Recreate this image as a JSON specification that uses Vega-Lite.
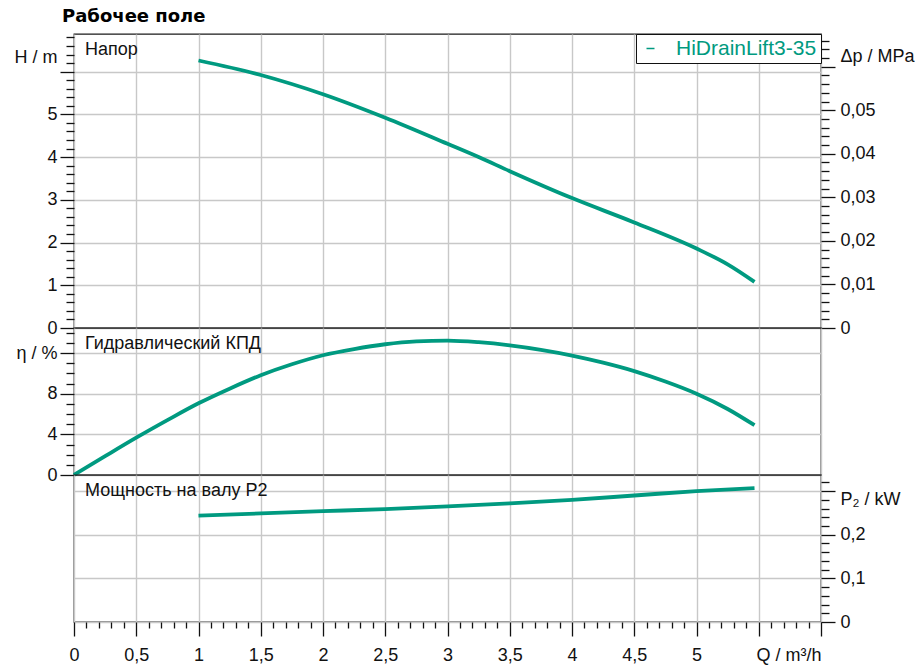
{
  "$schema": "https://vega.github.io/schema/vega-lite/v6.json",
  "padding": {"left": 13, "top": 7, "right": 0, "bottom": 0},
  "background": "white",
  "title": {"text": "Рабочее поле", "anchor": "start", "frame": "group", "font": "DejaVu Sans", "fontSize": 18, "fontWeight": "bold", "color": "#000000", "dx": -12, "offset": 2},
  "datasets": {
    "H": [
      {"Q": 1.0, "H": 6.26}, {"Q": 1.5, "H": 5.92}, {"Q": 2.0, "H": 5.47}, {"Q": 2.5, "H": 4.92},
      {"Q": 3.0, "H": 4.31}, {"Q": 3.25, "H": 4.0}, {"Q": 3.5, "H": 3.67}, {"Q": 4.0, "H": 3.04},
      {"Q": 4.5, "H": 2.47}, {"Q": 5.0, "H": 1.86}, {"Q": 5.25, "H": 1.49}, {"Q": 5.466, "H": 1.08}
    ],
    "eta": [
      {"Q": 0, "eta": 0}, {"Q": 0.25, "eta": 1.85}, {"Q": 0.5, "eta": 3.67}, {"Q": 0.75, "eta": 5.4},
      {"Q": 1.0, "eta": 7.06}, {"Q": 1.25, "eta": 8.5}, {"Q": 1.5, "eta": 9.82}, {"Q": 1.75, "eta": 10.9},
      {"Q": 2.0, "eta": 11.79}, {"Q": 2.25, "eta": 12.4}, {"Q": 2.5, "eta": 12.87}, {"Q": 2.75, "eta": 13.15},
      {"Q": 3.0, "eta": 13.23}, {"Q": 3.25, "eta": 13.07}, {"Q": 3.5, "eta": 12.76}, {"Q": 3.75, "eta": 12.32},
      {"Q": 4.0, "eta": 11.76}, {"Q": 4.25, "eta": 11.06}, {"Q": 4.5, "eta": 10.23}, {"Q": 4.75, "eta": 9.2},
      {"Q": 5.0, "eta": 8.0}, {"Q": 5.25, "eta": 6.5}, {"Q": 5.466, "eta": 4.9}
    ],
    "P2": [
      {"Q": 1.0, "P2": 0.244}, {"Q": 1.5, "P2": 0.249}, {"Q": 2.0, "P2": 0.254}, {"Q": 2.5, "P2": 0.259},
      {"Q": 3.0, "P2": 0.265}, {"Q": 3.5, "P2": 0.272}, {"Q": 4.0, "P2": 0.28}, {"Q": 4.5, "P2": 0.29},
      {"Q": 5.0, "P2": 0.3}, {"Q": 5.466, "P2": 0.307}
    ]
  },
  "spacing": 0,
  "bounds": "flush",
  "vconcat": [
    {
      "width": 747,
      "height": 294,
      "layer": [
        {
          "data": {"name": "H"},
          "mark": {"type": "line", "color": "#009a80", "strokeWidth": 3.8, "interpolate": "monotone"},
          "encoding": {
            "x": {"field": "Q", "type": "quantitative", "scale": {"domain": [0, 6], "nice": false, "zero": false},
              "axis": {"title": null, "labels": false, "ticks": false, "domain": false, "grid": true, "values": [0,0.5,1,1.5,2,2.5,3,3.5,4,4.5,5,5.5,6]}},
            "y": {"field": "H", "type": "quantitative", "scale": {"domain": [0, 6.88], "nice": false, "zero": false},
              "axis": {"orient": "left", "title": null, "grid": true,
                "values": [0,0.2,0.4,0.6,0.8,1,1.2,1.4,1.6,1.8,2,2.2,2.4,2.6,2.8,3,3.2,3.4,3.6,3.8,4,4.2,4.4,4.6,4.8,5,5.2,5.4,5.6,5.8,6,6.2,6.4,6.6,6.8,6.33],
                "tickSize": {"condition": {"test": "abs(datum.value - round(datum.value)) < 0.01 || abs(datum.value - 6.33) < 0.001", "value": 14}, "value": 8},
                "tickOpacity": {"condition": {"test": "abs(datum.value - 6.33) < 0.001", "value": 0}, "value": 1},
                "gridOpacity": {"condition": {"test": "abs(datum.value - round(datum.value)) < 0.01", "value": 1}, "value": 0},
                "labelExpr": "abs(datum.value - 6.33) < 0.001 ? 'H / m' : ((abs(datum.value - round(datum.value)) < 0.01 && datum.value < 5.5) ? format(datum.value, '~g') : '')"}},
            "color": {"datum": "HiDrainLift3-35", "scale": {"range": ["#009a80"]},
              "legend": {"title": null, "orient": "top-right", "offset": 0, "padding": 4, "strokeColor": "#111111", "fillColor": "white",
                "symbolType": "stroke", "symbolSize": 64, "symbolStrokeWidth": 1.5, "symbolStrokeColor": "#009a80",
                "labelColor": "#009a80", "labelFont": "Liberation Sans", "labelFontSize": 21, "labelOffset": 15, "labelLimit": 400}}
          }
        },
        {
          "data": {"values": [{"label": "Напор", "Q": 0}]},
          "mark": {"type": "text", "align": "left", "baseline": "alphabetic", "dx": 11, "dy": 21, "fontSize": 18, "font": "Liberation Sans", "color": "#111111"},
          "encoding": {
            "text": {"field": "label"},
            "x": {"field": "Q", "type": "quantitative", "scale": {"domain": [0, 6], "nice": false, "zero": false},
              "axis": {"title": null, "labels": false, "ticks": false, "domain": false, "grid": true, "values": [0,0.5,1,1.5,2,2.5,3,3.5,4,4.5,5,5.5,6]}},
            "y": {"datum": 0.0675, "type": "quantitative", "scale": {"domain": [0, 0.0675], "nice": false, "zero": false},
              "axis": {"orient": "right", "title": null, "grid": false, "labelPadding": 5,
                "values": [0,0.002,0.004,0.006,0.008,0.01,0.012,0.014,0.016,0.018,0.02,0.022,0.024,0.026,0.028,0.03,0.032,0.034,0.036,0.038,0.04,0.042,0.044,0.046,0.048,0.05,0.052,0.054,0.056,0.058,0.06,0.062,0.064,0.066,0.0623],
                "tickSize": {"condition": {"test": "abs(datum.value*100 - round(datum.value*100)) < 0.01 || abs(datum.value - 0.0623) < 0.00001", "value": 14}, "value": 8},
                "tickOpacity": {"condition": {"test": "abs(datum.value - 0.0623) < 0.00001", "value": 0}, "value": 1},
                "labelExpr": "abs(datum.value - 0.0623) < 0.00001 ? 'Δp / MPa' : ((abs(datum.value*100 - round(datum.value*100)) < 0.01 && datum.value < 0.055) ? replace(format(datum.value, '~g'), '.', ',') : '')"}}
          }
        }
      ],
      "resolve": {"scale": {"y": "independent"}}
    },
    {
      "width": 747,
      "height": 147,
      "layer": [
        {
          "data": {"name": "eta"},
          "mark": {"type": "line", "color": "#009a80", "strokeWidth": 3.8, "interpolate": "monotone"},
          "encoding": {
            "x": {"field": "Q", "type": "quantitative", "scale": {"domain": [0, 6], "nice": false, "zero": false},
              "axis": {"title": null, "labels": false, "ticks": false, "domain": false, "grid": true, "values": [0,0.5,1,1.5,2,2.5,3,3.5,4,4.5,5,5.5,6]}},
            "y": {"field": "eta", "type": "quantitative", "scale": {"domain": [0, 14.47], "nice": false, "zero": false},
              "axis": {"orient": "left", "title": null, "grid": true,
                "values": [0,1,2,3,4,5,6,7,8,9,10,11,12,13,14],
                "tickSize": {"condition": {"test": "datum.value % 4 == 0", "value": 14}, "value": 8},
                "gridOpacity": {"condition": {"test": "datum.value % 4 == 0", "value": 1}, "value": 0},
                "labelExpr": "datum.value == 12 ? 'η / %' : (datum.value % 4 == 0 ? format(datum.value, '~g') : '')"}}
          }
        },
        {
          "data": {"values": [{"label": "Гидравлический КПД", "Q": 0, "eta": 14.47}]},
          "mark": {"type": "text", "align": "left", "baseline": "alphabetic", "dx": 11, "dy": 21, "fontSize": 18, "font": "Liberation Sans", "color": "#111111"},
          "encoding": {
            "text": {"field": "label"},
            "x": {"field": "Q", "type": "quantitative", "scale": {"domain": [0, 6], "nice": false, "zero": false},
              "axis": {"title": null, "labels": false, "ticks": false, "domain": false, "grid": true, "values": [0,0.5,1,1.5,2,2.5,3,3.5,4,4.5,5,5.5,6]}},
            "y": {"field": "eta", "type": "quantitative", "scale": {"domain": [0, 14.47], "nice": false, "zero": false},
              "axis": {"orient": "left", "title": null, "grid": true,
                "values": [0,1,2,3,4,5,6,7,8,9,10,11,12,13,14],
                "tickSize": {"condition": {"test": "datum.value % 4 == 0", "value": 14}, "value": 8},
                "gridOpacity": {"condition": {"test": "datum.value % 4 == 0", "value": 1}, "value": 0},
                "labelExpr": "datum.value == 12 ? 'η / %' : (datum.value % 4 == 0 ? format(datum.value, '~g') : '')"}}
          }
        }
      ]
    },
    {
      "width": 747,
      "height": 147,
      "layer": [
        {
          "data": {"name": "P2"},
          "mark": {"type": "line", "color": "#009a80", "strokeWidth": 3.8, "interpolate": "monotone"},
          "encoding": {
            "x": {"field": "Q", "type": "quantitative", "scale": {"domain": [0, 6], "nice": false, "zero": false},
              "axis": {"title": null, "grid": true,
                "values": [0,0.1,0.2,0.3,0.4,0.5,0.6,0.7,0.8,0.9,1,1.1,1.2,1.3,1.4,1.5,1.6,1.7,1.8,1.9,2,2.1,2.2,2.3,2.4,2.5,2.6,2.7,2.8,2.9,3,3.1,3.2,3.3,3.4,3.5,3.6,3.7,3.8,3.9,4,4.1,4.2,4.3,4.4,4.5,4.6,4.7,4.8,4.9,5,5.1,5.2,5.3,5.4,5.5,5.6,5.7,5.8,5.9,6],
                "tickSize": {"condition": {"test": "abs(datum.value*2 - round(datum.value*2)) < 0.01", "value": 14}, "value": 6},
                "gridOpacity": {"condition": {"test": "abs(datum.value*2 - round(datum.value*2)) < 0.01", "value": 1}, "value": 0},
                "labelAlign": {"condition": {"test": "datum.value > 5.99", "value": "right"}, "value": "center"},
                "labelPadding": 10,
                "labelExpr": "datum.value > 5.99 ? 'Q / m³/h' : ((abs(datum.value*2 - round(datum.value*2)) < 0.01 && datum.value < 5.4) ? replace(format(datum.value, '~g'), '.', ',') : '')"}},
            "y": {"field": "P2", "type": "quantitative", "scale": {"domain": [0, 0.337], "nice": false, "zero": false},
              "axis": {"orient": "right", "title": null, "grid": true,
                "values": [0,0.02,0.04,0.06,0.08,0.1,0.12,0.14,0.16,0.18,0.2,0.22,0.24,0.26,0.28,0.3,0.32],
                "tickSize": {"condition": {"test": "abs(datum.value*10 - round(datum.value*10)) < 0.01", "value": 14}, "value": 8},
                "labelPadding": {"condition": {"test": "abs(datum.value - 0.28) < 0.001", "value": 11}, "value": 5},
                "gridOpacity": {"condition": {"test": "abs(datum.value*10 - round(datum.value*10)) < 0.01", "value": 1}, "value": 0},
                "labelExpr": "abs(datum.value - 0.28) < 0.001 ? 'P₂ / kW' : ((abs(datum.value*10 - round(datum.value*10)) < 0.01 && datum.value < 0.25) ? replace(format(datum.value, '~g'), '.', ',') : '')"}}
          }
        },
        {
          "data": {"values": [{"label": "Мощность на валу P2", "Q": 0, "P2": 0.337}]},
          "mark": {"type": "text", "align": "left", "baseline": "alphabetic", "dx": 11, "dy": 21, "fontSize": 18, "font": "Liberation Sans", "color": "#111111"},
          "encoding": {
            "text": {"field": "label"},
            "x": {"field": "Q", "type": "quantitative", "scale": {"domain": [0, 6], "nice": false, "zero": false},
              "axis": {"title": null, "grid": true,
                "values": [0,0.1,0.2,0.3,0.4,0.5,0.6,0.7,0.8,0.9,1,1.1,1.2,1.3,1.4,1.5,1.6,1.7,1.8,1.9,2,2.1,2.2,2.3,2.4,2.5,2.6,2.7,2.8,2.9,3,3.1,3.2,3.3,3.4,3.5,3.6,3.7,3.8,3.9,4,4.1,4.2,4.3,4.4,4.5,4.6,4.7,4.8,4.9,5,5.1,5.2,5.3,5.4,5.5,5.6,5.7,5.8,5.9,6],
                "tickSize": {"condition": {"test": "abs(datum.value*2 - round(datum.value*2)) < 0.01", "value": 14}, "value": 6},
                "gridOpacity": {"condition": {"test": "abs(datum.value*2 - round(datum.value*2)) < 0.01", "value": 1}, "value": 0},
                "labelAlign": {"condition": {"test": "datum.value > 5.99", "value": "right"}, "value": "center"},
                "labelPadding": 10,
                "labelExpr": "datum.value > 5.99 ? 'Q / m³/h' : ((abs(datum.value*2 - round(datum.value*2)) < 0.01 && datum.value < 5.4) ? replace(format(datum.value, '~g'), '.', ',') : '')"}},
            "y": {"field": "P2", "type": "quantitative", "scale": {"domain": [0, 0.337], "nice": false, "zero": false},
              "axis": {"orient": "right", "title": null, "grid": true,
                "values": [0,0.02,0.04,0.06,0.08,0.1,0.12,0.14,0.16,0.18,0.2,0.22,0.24,0.26,0.28,0.3,0.32],
                "tickSize": {"condition": {"test": "abs(datum.value*10 - round(datum.value*10)) < 0.01", "value": 14}, "value": 8},
                "labelPadding": {"condition": {"test": "abs(datum.value - 0.28) < 0.001", "value": 11}, "value": 5},
                "gridOpacity": {"condition": {"test": "abs(datum.value*10 - round(datum.value*10)) < 0.01", "value": 1}, "value": 0},
                "labelExpr": "abs(datum.value - 0.28) < 0.001 ? 'P₂ / kW' : ((abs(datum.value*10 - round(datum.value*10)) < 0.01 && datum.value < 0.25) ? replace(format(datum.value, '~g'), '.', ',') : '')"}}
          }
        }
      ]
    }
  ],
  "resolve": {"legend": {"color": "independent"}},
  "config": {
    "font": "Liberation Sans",
    "view": {"stroke": "#1a1a1a", "strokeWidth": 1.3},
    "axis": {"domain": false, "labelFont": "Liberation Sans", "labelFontSize": 18, "labelColor": "#111111", "tickColor": "#111111", "tickWidth": 1.3,
      "gridColor": "#c8c8c8", "gridWidth": 1.4, "labelOverlap": false, "labelFlush": false, "labelBound": false, "labelPadding": 3}
  }
}
